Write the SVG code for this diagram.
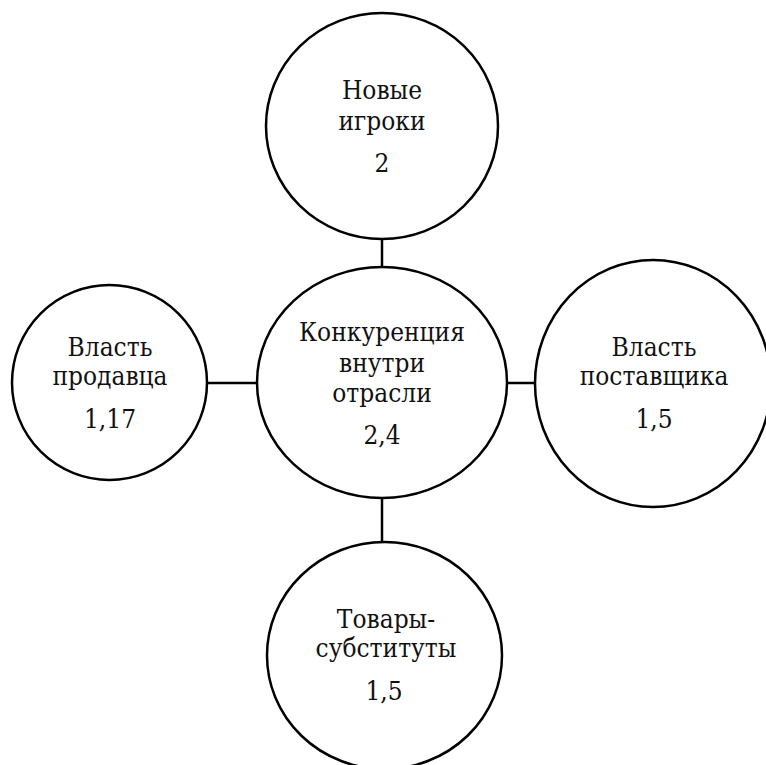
<svg xmlns="http://www.w3.org/2000/svg" width="766" height="765" viewBox="0 0 766 765">
<style>
.n{fill:#fff;stroke:#000;stroke-width:2.5}
.c{stroke:#000;stroke-width:2.5;fill:none}
</style>
<rect width="766" height="765" fill="#fff"/>
<g id="connectors">
<line class="c" x1="382" y1="239" x2="382" y2="267"/>
<line class="c" x1="382" y1="498" x2="382" y2="542"/>
<line class="c" x1="207" y1="383" x2="257" y2="383"/>
<line class="c" x1="507" y1="383" x2="535" y2="383"/>
</g>
<g font-family="DejaVu Serif Condensed, DejaVu Serif, serif" font-size="26" fill="#111" text-anchor="middle">
<g id="new-players">
<ellipse class="n" cx="382" cy="126" rx="116" ry="113"/>
<text x="382" y="99">Новые</text>
<text x="382" y="130">игроки</text>
<text x="382" y="172">2</text>
</g>
<g id="competition">
<ellipse class="n" cx="382" cy="382.5" rx="125" ry="115.5"/>
<text x="382" y="341">Конкуренция</text>
<text x="382" y="372">внутри</text>
<text x="382" y="402">отрасли</text>
<text x="382" y="444">2,4</text>
</g>
<g id="seller-power">
<circle class="n" cx="109.5" cy="382.5" r="97.5"/>
<text x="110" y="356">Власть</text>
<text x="110" y="385">продавца</text>
<text x="110" y="428">1,17</text>
</g>
<g id="supplier-power">
<ellipse class="n" cx="653" cy="383.5" rx="118" ry="123.5"/>
<text x="654" y="356">Власть</text>
<text x="654" y="385">поставщика</text>
<text x="654" y="428">1,5</text>
</g>
<g id="substitutes">
<ellipse class="n" cx="384.5" cy="655.5" rx="117.5" ry="113.5"/>
<text x="386" y="628">Товары-</text>
<text x="386" y="657">субституты</text>
<text x="384" y="700">1,5</text>
</g>
</g>
</svg>
